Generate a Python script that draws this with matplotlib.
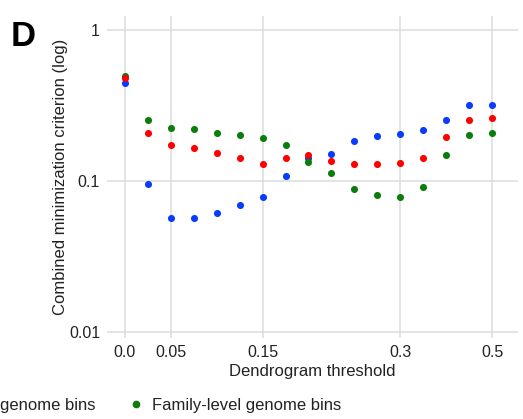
import numpy as np
import matplotlib
matplotlib.use('Agg')
import matplotlib.pyplot as plt
from matplotlib.lines import Line2D

plt.rcParams['font.family'] = ['Liberation Sans', 'DejaVu Sans']

# dendrogram cut thresholds (plotted as evenly spaced categories)
thresholds = [0.0, 0.025, 0.05, 0.075, 0.1, 0.125, 0.15, 0.175, 0.2,
              0.225, 0.25, 0.275, 0.3, 0.35, 0.4, 0.45, 0.5]
tick_labels = ['0.0', '0.05', '0.15', '0.3', '0.5']
tick_values = [0.0, 0.05, 0.15, 0.3, 0.5]

species_bins = [0.446, 0.095, 0.057, 0.0566, 0.0614, 0.0694, 0.0783, 0.108, 0.141,
                0.152, 0.184, 0.198, 0.204, 0.217, 0.255, 0.319, 0.320]
genus_bins = [0.479, 0.209, 0.174, 0.166, 0.153, 0.142, 0.129, 0.142, 0.149,
              0.136, 0.130, 0.130, 0.131, 0.141, 0.195, 0.253, 0.260]
family_bins = [0.493, 0.253, 0.224, 0.220, 0.208, 0.201, 0.192, 0.172, 0.133,
               0.113, 0.088, 0.081, 0.078, 0.091, 0.148, 0.203, 0.207]

colors = {'blue': '#0a3cff', 'red': '#ff0000', 'green': '#0b7d0b'}
text_color = '#222222'

fig = plt.figure(figsize=(5.23, 4.19), dpi=100)
ax = fig.add_axes([107 / 523, 1 - 338 / 419, 411 / 523, 322 / 419])

pos = np.arange(len(thresholds))
ax.scatter(pos, species_bins, s=26, color=colors['blue'], zorder=3, linewidths=0)
ax.scatter(pos, family_bins, s=26, color=colors['green'], zorder=4, linewidths=0)
ax.scatter(pos, genus_bins, s=26, color=colors['red'], zorder=5, linewidths=0)

ax.set_yscale('log')
ax.set_ylim(0.0091, 1.24)
ax.set_yticks([0.01, 0.1, 1])
ax.set_yticklabels(['0.01', '0.1', '1'])
ax.minorticks_off()

ax.set_xlim(-0.78, 17.13)
ax.set_xticks([thresholds.index(v) for v in tick_values])
ax.set_xticklabels(tick_labels)

ax.grid(True, color='#dcdcdc', linewidth=1.1)
ax.set_axisbelow(True)
for sp in ax.spines.values():
    sp.set_visible(False)
ax.tick_params(length=0, labelsize=11.5, colors=text_color, pad=5)

ax.set_xlabel('Dendrogram threshold', fontsize=12, color=text_color, labelpad=3)
ax.set_ylabel('Combined minimization criterion (log)', fontsize=12, color=text_color, labelpad=1)

fig.text(11 / 523, 1 - 46 / 419, 'D', fontsize=25, fontweight='bold')

# bottom legend row (only the tail of the genus entry fits in the panel)
fig.text(0, 1 - 405 / 419, 'genome bins', fontsize=12, color=text_color,
         ha='left', va='center')
handles = [Line2D([], [], marker='o', linestyle='', markersize=4.5, color=colors['green'])]
fig.legend(handles, ['Family-level genome bins'], frameon=False, fontsize=12,
           labelcolor=text_color, loc='center left',
           bbox_to_anchor=(129 / 523, 1 - 405 / 419),
           handlelength=0.8, handletextpad=0.6, borderaxespad=0, borderpad=0)

fig.savefig('out.png', dpi=100)
